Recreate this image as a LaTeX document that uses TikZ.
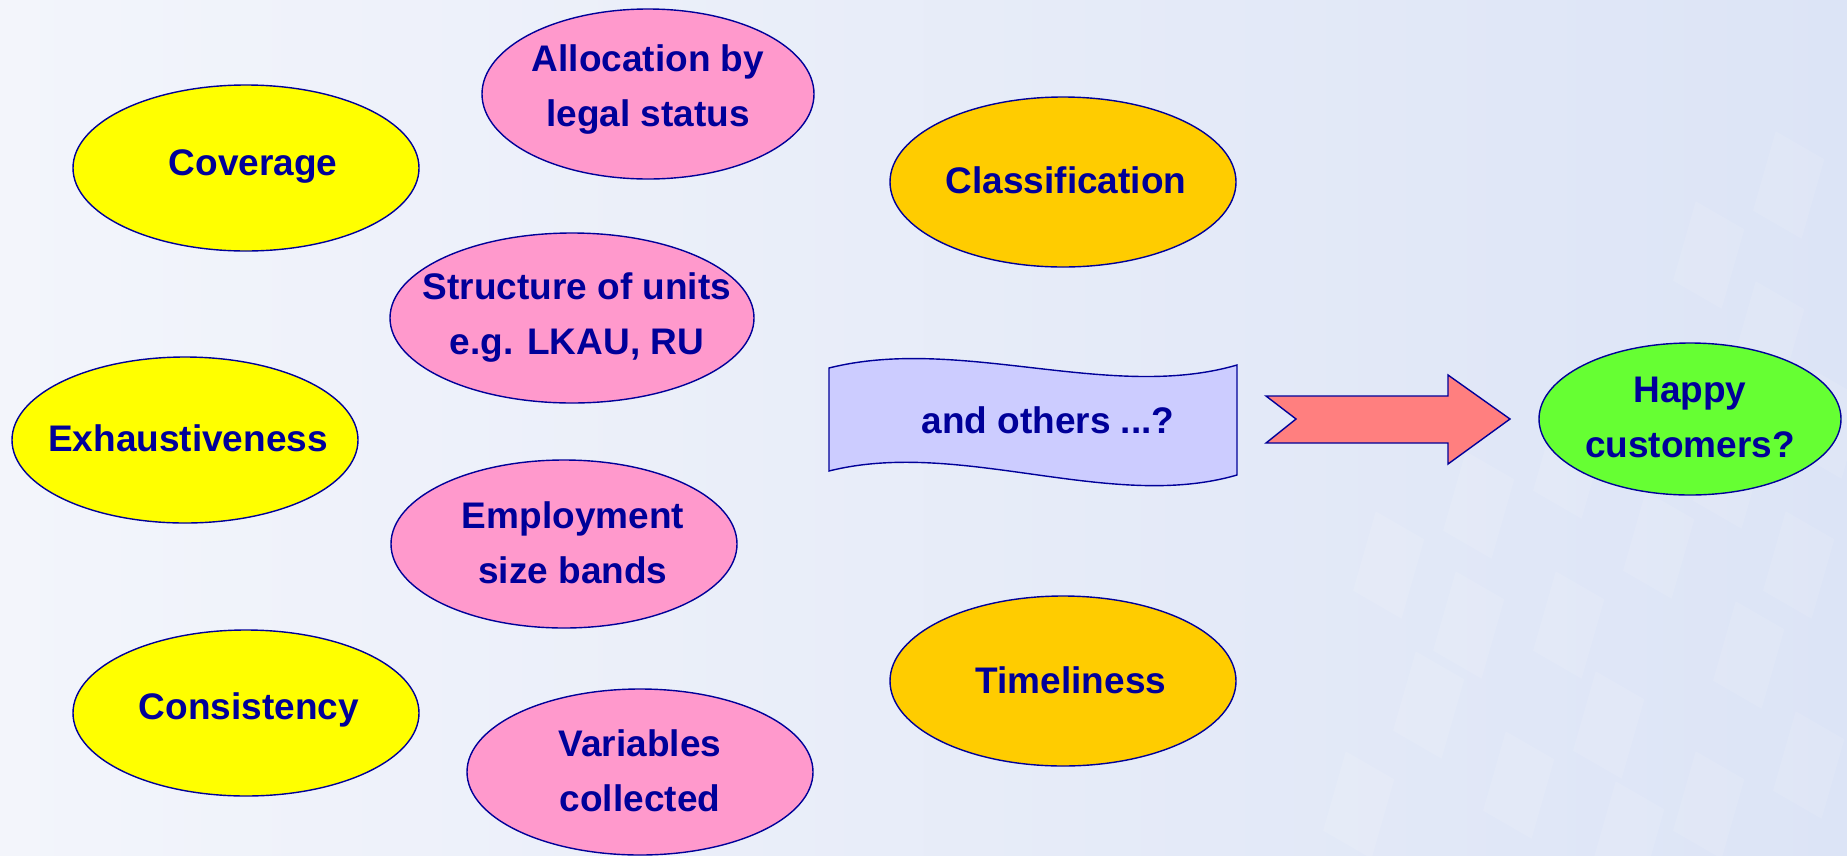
\documentclass[tikz,border=0pt]{standalone}
\usepackage{fontspec}
\setmainfont{Liberation Sans}
\usetikzlibrary{shapes.geometric}
\definecolor{ink}{HTML}{000099}
\definecolor{yel}{HTML}{FFFF00}
\definecolor{pnk}{HTML}{FF99CC}
\definecolor{org}{HTML}{FFCC00}
\definecolor{grn}{HTML}{66FF33}
\definecolor{lav}{HTML}{CCCCFF}
\definecolor{salmon}{HTML}{FF7F7F}
\definecolor{bgL}{HTML}{F3F5FB}
\definecolor{bgR}{HTML}{DCE4F6}
\tikzset{
  blob/.style={ellipse, draw=ink, line width=1.4pt, inner sep=0pt},
  wide/.style={blob, minimum width=346pt, minimum height=166pt},
  lbl/.style={text=ink, align=center, inner sep=0pt,
    font=\fontsize{37}{55}\selectfont\bfseries},
  tile/.style={fill=white, opacity=0.11}
}
\begin{document}
\begin{tikzpicture}[x=1pt,y=-1pt]
% page background
\useasboundingbox (0,0) rectangle (1847,855);
\fill[left color=bgL, right color=bgR] (0,0) rectangle (1847,855);
% faint tiled pattern on the right
\foreach \cx/\cy in {1380/560,1470/500,1560/620,1650/540,1740/650,1420/700,
  1510/780,1600/720,1700/800,1790/560,1460/620,1560/460,1660/400,1760/330,
  1800/760,1350/800,1620/830,1720/470,1780/180,1700/250,1820/420}{
  \fill[tile, shift={(\cx,\cy)}, rotate=-30]
    (-28,-40) -- (28,-40) -- (48,40) -- (-8,40) -- cycle;
}

% ellipses
\node[wide, fill=yel] (cov) at (246,168) {};
\node[blob, fill=pnk, minimum width=332pt, minimum height=170pt] (alloc) at (648,94) {};
\node[wide, fill=org, minimum height=170pt] (cls) at (1063,182) {};
\node[blob, fill=pnk, minimum width=364pt, minimum height=170pt] (struct) at (572,318) {};
\node[wide, fill=yel] (exh) at (185,440) {};
\node[wide, fill=pnk, minimum height=168pt] (emp) at (564,544) {};
\node[wide, fill=org, minimum height=170pt] (time) at (1063,681) {};
\node[wide, fill=yel] (cons) at (246,713) {};
\node[wide, fill=pnk] (vars) at (640,772) {};
\node[blob, fill=grn, minimum width=302pt, minimum height=152pt] (happy) at (1690,419) {};

% labels
\node[lbl] (tcov) at (253,166) {Coverage};
\node[lbl] (talloc) at (648,90) {Allocation by\\legal status};
\node[lbl] (tcls) at (1066,180) {Classification};
\node[lbl] (tstruct) at (577,318) {Structure of units\\e.g. LKAU, RU};
\node[lbl] (texh) at (188,438) {Exhaustiveness};
\node[lbl] (temp) at (573,543) {Employment\\size bands};
\node[lbl] (ttime) at (1071,680) {Timeliness};
\node[lbl] (tcons) at (249,710) {Consistency};
\node[lbl] (tvars) at (640,771) {Variables\\collected};
\node[lbl] (thappy) at (1690,417) {Happy\\customers?};

% wavy banner
\filldraw[fill=lav, draw=ink, line width=1.4pt]
  (829,368) .. controls (960,335) and (1110,402) .. (1237,365)
  -- (1237,475)
  .. controls (1110,512) and (960,438) .. (829,471) -- cycle;
\node[lbl] (tothers) at (1048,420) {and others ...?};

% block arrow towards the result
\coordinate (tail) at (1296,419);
\coordinate (tip) at (1510,419);
\filldraw[fill=salmon, draw=ink, line width=1.4pt]
  (1266,396) -- (1448,396) -- (1448,375) -- (tip) -- (1448,464)
  -- (1448,443) -- (1266,443) -- (tail) -- cycle;
\end{tikzpicture}
\end{document}
